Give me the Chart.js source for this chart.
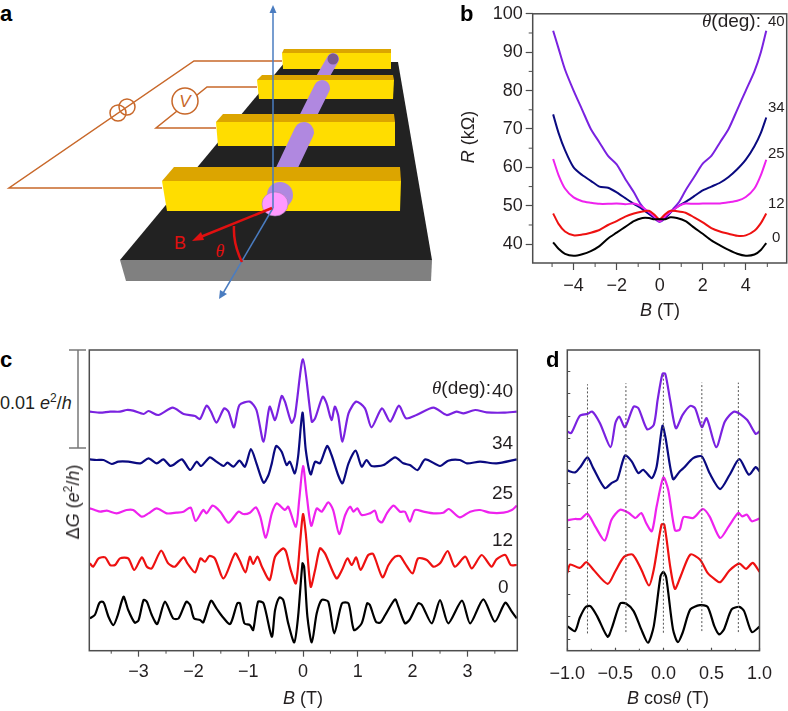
<!DOCTYPE html>
<html>
<head>
<meta charset="utf-8">
<title>Magnetoresistance panels</title>
<script src="https://cdn.jsdelivr.net/npm/chart.js@4"></script>
<style>
html, body { margin: 0; padding: 0; background: #fff; }
#page { position: relative; width: 788px; height: 711px; overflow: hidden; font-family: "Liberation Sans", Arial, sans-serif; color: #231f20; }
#page svg { position: absolute; left: 0; top: 0; }
.plot { position: absolute; }
.plot canvas { display: block; }
.t { position: absolute; font-size: 18px; line-height: 20px; white-space: nowrap; transform: translate(-50%, -50%); }
.l { position: absolute; font-size: 19px; line-height: 20px; white-space: nowrap; transform: translateY(-50%); }
.rot { transform: translate(-50%, -50%) rotate(-90deg); }
.panel { position: absolute; font-size: 22px; font-weight: bold; line-height: 22px; color: #000; }
.th { font-family: "Liberation Serif", serif; font-style: italic; }
sup { font-size: 12px; line-height: 0; }
</style>
</head>
<body>
<div id="page">
  <svg width="788" height="711" viewBox="0 0 788 711">
    <!-- substrate -->
    <polygon points="120,260 432,260 431,281 126,281" fill="#808080"/>
    <polygon points="120,260 285,62 398,62 432,260" fill="#222222"/>
    <!-- wires -->
    <g fill="none" stroke="#c8682a" stroke-width="1.5">
      <polyline points="282,61 194,61 9,188 162,188"/>
      <polyline points="257,87 207,87 156,128 216,128"/>
      <circle cx="118" cy="113" r="8"/>
      <circle cx="127" cy="107" r="8"/>
      <circle cx="185" cy="101" r="13" fill="#fff"/>
    </g>
    <text x="185" y="107" font-family="Liberation Sans" font-style="italic" font-size="17" fill="#c8682a" text-anchor="middle">V</text>
    <!-- contacts and wire, back to front -->
    <polygon points="282,53 284,49 391,49 391,53" fill="#dca500"/>
    <polygon points="282,53 391,53 391,69 283,69" fill="#ffdd00"/>
    <line x1="333" y1="59" x2="322" y2="78" stroke="#b088e0" stroke-width="12" stroke-linecap="round"/>
    <circle cx="333" cy="59" r="5.5" fill="#7a5a90"/>
    <polygon points="257,80 262,75 393,75 394,80" fill="#dca500"/>
    <polygon points="257,80 394,80 393,99 259,99" fill="#ffdd00"/>
    <line x1="322" y1="88" x2="306" y2="120" stroke="#b088e0" stroke-width="16" stroke-linecap="round"/>
    <polygon points="216,122 223,114 394,114 395,122" fill="#dca500"/>
    <polygon points="216,122 395,122 395,146 218,146" fill="#ffdd00"/>
    <line x1="304" y1="132" x2="284" y2="174" stroke="#b088e0" stroke-width="20" stroke-linecap="round"/>
    <polygon points="162,181 174,167 400,167 401,181" fill="#dca500"/>
    <polygon points="162,181 401,181 400,211 167,211" fill="#ffdd00"/>
    <ellipse cx="280" cy="195" rx="13" ry="13" fill="#b088e0"/>
    <ellipse cx="275" cy="204" rx="13" ry="12" fill="#ff99ff" stroke="#a080b0" stroke-width="0.6"/>
    <!-- axes -->
    <g stroke="#4a7cc0" stroke-width="1.5" fill="#4a7cc0">
      <line x1="273" y1="10" x2="273" y2="208"/>
      <polygon points="273,5 269.5,13 276.5,13" stroke="none"/>
      <line x1="273" y1="208" x2="222" y2="295"/>
      <polygon points="219,299 220,290 227,294" stroke="none"/>
    </g>
    <!-- field arrow and angle -->
    <line x1="272" y1="208" x2="198" y2="238" stroke="#e01010" stroke-width="2.5"/>
    <polygon points="192,241 201,232 204,240" fill="#e01010"/>
    <path d="M234,226 Q233,244 242,262" fill="none" stroke="#e01010" stroke-width="2.5"/>
    <text x="180" y="249" font-family="Liberation Sans" font-size="18" fill="#e01010" text-anchor="middle">B</text>
    <text x="220" y="257" font-family="Liberation Serif" font-style="italic" font-size="18" fill="#e01010" text-anchor="middle">θ</text>
    <!-- scale bar of panel c -->
    <g stroke="#777" stroke-width="1.5">
      <line x1="78" y1="350" x2="78" y2="448"/>
      <line x1="69" y1="350" x2="86" y2="350"/>
      <line x1="69" y1="448" x2="86" y2="448"/>
    </g>
  </svg>

  <div class="plot" style="left:460px;top:0;width:328px;height:330px"><canvas id="chartB"></canvas></div>
  <div class="plot" style="left:80px;top:340px;width:448px;height:371px"><canvas id="chartC"></canvas></div>
  <div class="plot" style="left:530px;top:340px;width:258px;height:371px"><canvas id="chartD"></canvas></div>

  <div class="panel" style="left:0;top:3px">a</div>
  <div class="panel" style="left:460px;top:3px">b</div>
  <div class="panel" style="left:0;top:349px">c</div>
  <div class="panel" style="left:546px;top:349px">d</div>

  <!-- panel b text -->
  <div class="t rot" style="left:468px;top:137px"><i>R</i> (kΩ)</div>
  <div class="t" style="left:660px;top:310px"><i>B</i> (T)</div>
  <div class="l" style="left:702px;top:21px"><span class="th">θ</span>(deg):</div>
  <div class="l" style="left:768px;top:21px;font-size:15px">40</div>
  <div class="l" style="left:768px;top:107px;font-size:15px">34</div>
  <div class="l" style="left:768px;top:153px;font-size:15px">25</div>
  <div class="l" style="left:768px;top:203px;font-size:15px">12</div>
  <div class="l" style="left:772px;top:237px;font-size:15px">0</div>

  <!-- panel c text -->
  <div class="l" style="left:0;top:403px;font-size:18px">0.01 <i>e</i><sup>2</sup>/<i>h</i></div>
  <div class="t rot" style="left:73px;top:502px">Δ<i>G</i> (<i>e</i><sup>2</sup>/<i>h</i>)</div>
  <div class="t" style="left:303px;top:698px"><i>B</i> (T)</div>
  <div class="l" style="left:432px;top:388px"><span class="th">θ</span>(deg):</div>
  <div class="l" style="left:492px;top:391px">40</div>
  <div class="l" style="left:492px;top:443px">34</div>
  <div class="l" style="left:492px;top:493px">25</div>
  <div class="l" style="left:492px;top:540px">12</div>
  <div class="l" style="left:498px;top:587px">0</div>

  <!-- panel d text -->
  <div class="t" style="left:668px;top:698px"><i>B</i> cos<span class="th">θ</span> (T)</div>
</div>

<script>
/* ==========================================================================
   PANEL B: R(B) AT EACH ANGLE
   ========================================================================== */
const bB40 = [-4.95,-4.7,-4.4,-4,-3.6,-3.2,-2.8,-2.4,-2,-1.6,-1.2,-0.9,-0.6,-0.3,0,0.3,0.6,0.9,1.2,1.6,2,2.4,2.8,3.2,3.6,4,4.4,4.7,4.95];
const bR40 = [95.6,91,85.5,80,75,70,66.5,63,60.8,57,53.5,50.5,48.5,47,45.8,47,49,51,54,57.5,61,63,66.5,70,75,80,85,90,95.6];
const bR34 = [73.8,69,64.5,60,58,56.5,55,54.7,53.5,52,50.5,49.5,48.3,47.2,46.2,47.2,48.8,50,51,52.5,54,55,56,57.5,59.5,62,65.5,69,73];
const bR25 = [62.2,58,54.5,52.2,51.2,50.8,50.5,50.5,50.6,50.4,50.6,50,48.8,47.5,46,47.5,48.8,50,50.6,50.5,50.6,50.6,50.6,50.9,51.3,52.3,54.5,58,62];
const bB12 = [-4.95,-4.7,-4.4,-4,-3.6,-3.2,-2.8,-2.4,-2,-1.6,-1.2,-0.8,-0.5,-0.25,0,0.25,0.5,0.8,1.2,1.6,2,2.4,2.8,3.2,3.6,4,4.4,4.7,4.95];
const bR12 = [48,45.3,43.3,42.3,42.5,43,43.7,45,46,47.2,48,48.5,48.7,47.7,46.5,47.8,48.7,48.6,48.2,47,45.7,44.2,43.3,42.7,42.2,42.3,43.5,45.5,48];
const bR0 = [40.5,38.8,37.5,37,37.4,38.2,39.5,41.5,43,44.5,46,46.8,46.8,46.5,46.5,46.5,47,46.8,46,44.3,42.7,41,39.7,38.5,37.5,37,37.3,38.5,40.3];
const bTicksX = [-4,-2,0,2,4];
const bMinorX = [-5,-3,-1,1,3,5];
const bTicksY = [40,50,60,70,80,90,100];
const bMinorY = [45,55,65,75,85,95];

/* ==========================================================================
   PANEL C: DELTA G(B), STACKED (ARBITRARY OFFSET UNITS, 294 = 0.01 e2/h)
   ========================================================================== */
const cB0 = [-3.89,-3.80,-3.72,-3.67,-3.63,-3.55,-3.46,-3.39,-3.31,-3.27,-3.19,-3.07,-3.00,-2.91,-2.85,-2.76,-2.66,-2.52,-2.37,-2.27,-2.13,-2.06,-1.99,-1.88,-1.82,-1.68,-1.58,-1.47,-1.33,-1.20,-1.15,-1.07,-0.97,-0.91,-0.82,-0.72,-0.57,-0.51,-0.43,-0.36,-0.27,-0.16,-0.09,-0.01,0.02,0.08,0.16,0.25,0.34,0.46,0.57,0.71,0.83,0.93,1.07,1.17,1.22,1.33,1.41,1.50,1.68,1.74,1.86,1.95,2.10,2.17,2.35,2.50,2.65,2.90,3.05,3.29,3.50,3.69,3.81,3.90];
const cG0 = [97,107,142,147,142,102,77,102,147,162,122,84,92,152,147,107,80,147,97,97,147,137,97,92,85,150,127,102,80,142,142,82,77,62,147,142,42,122,160,152,82,25,102,262,252,102,25,112,152,147,52,142,142,62,82,142,137,87,84,107,154,132,82,94,142,137,82,152,82,150,82,154,87,144,117,97];

const cB12 = [-3.89,-3.83,-3.73,-3.61,-3.52,-3.43,-3.34,-3.19,-3.08,-2.94,-2.85,-2.76,-2.59,-2.46,-2.34,-2.18,-2.11,-1.97,-1.87,-1.79,-1.71,-1.61,-1.45,-1.24,-1.16,-1.05,-0.97,-0.91,-0.83,-0.75,-0.61,-0.51,-0.36,-0.31,-0.225,-0.13,-0.05,0,0.05,0.14,0.22,0.31,0.40,0.61,0.71,0.81,0.89,0.97,1.05,1.19,1.28,1.45,1.56,1.68,1.77,1.86,2.00,2.10,2.26,2.38,2.50,2.64,2.77,2.96,3.08,3.26,3.44,3.53,3.69,3.79,3.90];
const cG12 = [262,252,277,280,257,257,277,277,242,280,252,247,300,262,252,280,262,235,277,267,284,277,217,292,272,235,282,260,282,252,212,282,307,297,242,202,332,410,352,192,242,307,292,217,242,277,257,280,242,287,290,220,257,282,284,262,232,277,272,252,262,299,252,282,247,287,252,274,287,257,257];

const cB25 = [-3.89,-3.80,-3.70,-3.58,-3.40,-3.22,-3.10,-2.94,-2.82,-2.67,-2.49,-2.31,-2.18,-2.05,-1.96,-1.82,-1.76,-1.65,-1.51,-1.36,-1.18,-1.09,-0.97,-0.86,-0.78,-0.68,-0.57,-0.48,-0.33,-0.27,-0.13,-0.07,0,0.07,0.15,0.25,0.34,0.46,0.55,0.66,0.77,0.86,0.92,0.99,1.07,1.22,1.31,1.37,1.44,1.53,1.65,1.77,1.86,1.95,2.04,2.20,2.38,2.56,2.66,2.86,3.05,3.23,3.41,3.66,3.81,3.90];
const cG25 = [427,422,417,420,412,422,422,402,412,427,412,414,417,429,389,422,412,435,417,384,417,410,414,430,402,339,412,442,422,432,372,452,554,462,375,427,417,445,422,350,407,432,417,427,407,412,420,392,385,412,435,417,417,387,422,417,412,414,425,400,417,422,414,414,422,435];

const cB34 = [-3.89,-3.77,-3.64,-3.49,-3.37,-3.19,-2.97,-2.82,-2.67,-2.55,-2.43,-2.37,-2.21,-2.06,-1.94,-1.86,-1.70,-1.58,-1.45,-1.38,-1.27,-1.16,-1.06,-0.95,-0.85,-0.72,-0.63,-0.57,-0.49,-0.39,-0.30,-0.24,-0.15,-0.09,-0.01,0.05,0.14,0.22,0.31,0.44,0.52,0.64,0.72,0.83,0.96,1.07,1.16,1.25,1.47,1.68,1.83,1.95,2.09,2.23,2.50,2.65,2.86,2.99,3.23,3.53,3.90];
const cG34 = [574,572,572,560,567,567,562,577,562,574,555,557,574,542,567,554,580,567,554,564,552,570,552,605,562,504,527,562,614,597,557,567,532,582,714,602,529,567,562,614,587,527,502,562,600,552,572,554,557,580,562,557,542,574,554,570,572,562,567,562,574];

const cB40 = [-3.89,-3.70,-3.52,-3.34,-3.22,-3.10,-2.91,-2.82,-2.64,-2.38,-2.18,-1.97,-1.88,-1.76,-1.68,-1.58,-1.44,-1.36,-1.26,-1.16,-0.97,-0.85,-0.72,-0.61,-0.51,-0.39,-0.33,-0.21,-0.15,0,0.16,0.22,0.36,0.43,0.52,0.58,0.64,0.72,0.83,0.97,1.13,1.25,1.44,1.59,1.75,1.88,2.07,2.38,2.62,2.80,2.93,3.14,3.35,3.66,3.90];
const cG40 = [717,714,717,717,722,720,710,719,707,729,710,704,695,735,717,684,727,717,670,737,747,722,627,732,692,764,747,684,702,874,687,697,762,742,692,732,707,627,712,747,727,670,727,687,735,697,707,729,707,717,712,722,715,714,717];

const cTicksX = [-3,-2,-1,0,1,2,3];
const cMinorX = [-3.5,-2.5,-1.5,-0.5,0.5,1.5,2.5,3.5];

/* ==========================================================================
   PANEL D: SAME CURVES AGAINST B cos(theta)
   ========================================================================== */
const dB0 = [-1,-0.92,-0.87,-0.81,-0.76,-0.69,-0.58,-0.53,-0.45,-0.39,-0.31,-0.23,-0.16,-0.10,-0.03,0,0.03,0.10,0.15,0.20,0.28,0.38,0.46,0.53,0.58,0.63,0.71,0.79,0.84,0.92,1];
const dG0 = [74,59,99,131,134,104,42,74,142,142,119,64,24,74,224,237,219,64,26,54,124,137,132,74,49,64,124,132,119,56,72];

const dB12 = [-1,-0.97,-0.87,-0.80,-0.73,-0.58,-0.50,-0.41,-0.32,-0.23,-0.15,-0.10,-0.02,0.01,0.07,0.12,0.18,0.28,0.38,0.46,0.53,0.59,0.69,0.79,0.86,0.93,1];
const dG12 = [234,259,249,266,244,201,239,282,289,244,196,244,379,379,254,186,224,289,274,234,216,206,242,262,246,264,237];

const dB25 = [-1,-0.92,-0.86,-0.79,-0.71,-0.61,-0.54,-0.45,-0.36,-0.29,-0.23,-0.18,-0.12,-0.07,0,0.05,0.12,0.17,0.21,0.31,0.41,0.48,0.59,0.68,0.78,0.82,0.87,0.92,1];
const dG25 = [392,396,396,412,374,331,394,424,414,399,414,384,359,434,521,484,362,364,402,399,426,404,339,374,414,404,409,389,397];

const dB34 = [-1,-0.92,-0.86,-0.79,-0.73,-0.61,-0.54,-0.48,-0.40,-0.33,-0.26,-0.21,-0.12,-0.07,-0.01,0.02,0.10,0.17,0.21,0.31,0.40,0.48,0.59,0.69,0.79,0.89,0.96,1];
const dG34 = [542,536,554,581,549,489,504,514,587,569,534,544,519,554,676,644,516,539,549,579,584,534,486,529,576,529,552,539];

const dB40 = [-1,-0.96,-0.87,-0.79,-0.74,-0.66,-0.55,-0.50,-0.46,-0.40,-0.31,-0.26,-0.17,-0.10,-0.06,-0.01,0.02,0.07,0.13,0.20,0.28,0.33,0.40,0.45,0.55,0.64,0.74,0.87,0.96,1];
const dG40 = [659,654,706,712,719,684,612,684,704,672,734,729,666,679,754,832,832,754,669,709,736,729,672,699,612,689,719,694,652,659];

const dDashB = [-0.79,-0.39,0,0.40,0.78];
const dDashLow = [52,56,54,59,56];
const dDashHigh = [801,804,830,806,806];
const dTicksX = [-1,-0.5,0,0.5,1];
const dMinorX = [-0.75,-0.25,0.25,0.75];
const dTicksY = [34,102,169,237,304,369,437,504,569,637,704,772,839];

const colors = { c0: '#000000', c12: '#ee1111', c25: '#ee22ee', c34: '#0a0a80', c40: '#7a22e0' };
const axisColor = '#4d4d4d';
const fontFamily = '"Liberation Sans", Arial, sans-serif';

/* ==========================================================================
   HELPERS
   ========================================================================== */
const pts = (xs, ys) => xs.map((x, i) => ({ x, y: ys[i] }));
const minus = v => String(v).replace('-', '\u2212');

function curve(xs, ys, color, width) {
    return {
        data: pts(xs, ys),
        borderColor: color,
        borderWidth: width,
        pointRadius: 0,
        showLine: true,
        tension: 0.25
    };
}

// Frame round the plot area and the short minor ticks Chart.js has no option for
const framePlugin = {
    id: 'frame',
    afterDraw(chart, args, opts) {
        const { ctx, chartArea: a, scales } = chart;
        ctx.save();
        ctx.strokeStyle = axisColor;
        ctx.lineWidth = 1.5;
        ctx.strokeRect(a.left, a.top, a.right - a.left, a.bottom - a.top);
        ctx.lineWidth = 1;
        ctx.beginPath();
        (opts.minorX || []).forEach(v => {
            const x = scales.x.getPixelForValue(v);
            ctx.moveTo(x, a.bottom);
            ctx.lineTo(x, a.bottom + opts.minorLen);
        });
        (opts.minorY || []).forEach(v => {
            const y = scales.y.getPixelForValue(v);
            ctx.moveTo(a.left, y);
            ctx.lineTo(a.left - opts.minorLen, y);
        });
        ctx.stroke();
        ctx.restore();
    }
};

function baseOptions(padding, frame) {
    return {
        responsive: true,
        maintainAspectRatio: false,
        animation: false,
        events: [],
        layout: { padding },
        plugins: { legend: { display: false }, tooltip: { enabled: false }, frame }
    };
}

function xAxis(min, max, ticks, height, tickLength, padding) {
    return {
        type: 'linear', min, max,
        afterBuildTicks: s => { s.ticks = ticks.map(value => ({ value })); },
        afterFit: s => { s.height = height; },
        border: { display: false },
        grid: { drawOnChartArea: false, color: axisColor, tickLength, tickWidth: 1.2 },
        ticks: {
            color: '#231f20', padding, maxRotation: 0, autoSkip: false,
            font: { family: fontFamily, size: 18 },
            callback: v => ticks === dTicksX ? minus(v.toFixed(1)) : minus(v)
        }
    };
}

/* ==========================================================================
   CHARTS
   ========================================================================== */
document.addEventListener('DOMContentLoaded', () => {
    // Panel b
    new Chart(document.getElementById('chartB'), {
        type: 'scatter',
        data: { datasets: [
            curve(bB12, bR0, colors.c0, 2),
            curve(bB12, bR12, colors.c12, 2),
            curve(bB40, bR25, colors.c25, 2),
            curve(bB40, bR34, colors.c34, 2),
            curve(bB40, bR40, colors.c40, 2)
        ] },
        options: {
            ...baseOptions({ top: 10.7, right: 1.3, bottom: 0, left: 0 },
                { minorX: bMinorX, minorY: bMinorY, minorLen: 4 }),
            scales: {
                x: xAxis(-5.9, 5.9, bTicksX, 67, 7, 5),
                y: {
                    type: 'linear', min: 35.1, max: 100,
                    afterBuildTicks: s => { s.ticks = bTicksY.map(value => ({ value })); },
                    afterFit: s => { s.width = 72.7; },
                    border: { display: false },
                    grid: { drawOnChartArea: false, color: axisColor, tickLength: 7, tickWidth: 1.2 },
                    ticks: { color: '#231f20', padding: 3, font: { family: fontFamily, size: 18 } }
                }
            }
        },
        plugins: [framePlugin]
    });

    // Panel c
    new Chart(document.getElementById('chartC'), {
        type: 'scatter',
        data: { datasets: [
            curve(cB0, cG0, colors.c0, 2.2),
            curve(cB12, cG12, colors.c12, 2.2),
            curve(cB25, cG25, colors.c25, 2.2),
            curve(cB34, cG34, colors.c34, 2.2),
            curve(cB40, cG40, colors.c40, 2.2)
        ] },
        options: {
            ...baseOptions({ top: 10, right: 10.7, bottom: 0, left: 9.3 },
                { minorX: cMinorX, minorLen: 3 }),
            scales: {
                x: xAxis(-3.9, 3.91, cTicksX, 60.3, 6, 5),
                y: { type: 'linear', min: 0, max: 902, display: false }
            }
        },
        plugins: [framePlugin]
    });

    // Panel d
    const dashes = dDashB.map((b, i) => ({
        ...curve([b, b], [dDashLow[i], dDashHigh[i]], '#555555', 1),
        borderDash: [2, 2],
        tension: 0
    }));
    const xD = xAxis(-1, 1, dTicksX, 60.3, -3, 16);
    new Chart(document.getElementById('chartD'), {
        type: 'scatter',
        data: { datasets: [
            ...dashes,
            curve(dB0, dG0, colors.c0, 2.2),
            curve(dB12, dG12, colors.c12, 2.2),
            curve(dB25, dG25, colors.c25, 2.2),
            curve(dB34, dG34, colors.c34, 2.2),
            curve(dB40, dG40, colors.c40, 2.2)
        ] },
        options: {
            ...baseOptions({ top: 10, right: 18.7, bottom: 0, left: 0 }, { minorX: [] }),
            scales: {
                x: xD,
                y: {
                    type: 'linear', min: 0, max: 904,
                    afterBuildTicks: s => { s.ticks = dTicksY.map(value => ({ value })); },
                    afterFit: s => { s.width = 37.3; },
                    border: { display: false },
                    grid: { drawOnChartArea: false, color: axisColor, tickLength: -3, tickWidth: 1 },
                    ticks: { display: false }
                }
            }
        },
        plugins: [framePlugin, {
            id: 'innerMinor',
            afterDraw(chart) {
                // panel d keeps its short x ticks inside the frame
                const { ctx, chartArea: a, scales } = chart;
                ctx.save();
                ctx.strokeStyle = axisColor;
                ctx.beginPath();
                dMinorX.forEach(v => {
                    const x = scales.x.getPixelForValue(v);
                    ctx.moveTo(x, a.bottom);
                    ctx.lineTo(x, a.bottom - 2);
                });
                ctx.stroke();
                ctx.restore();
            }
        }]
    });
});
</script>
</body>
</html>
